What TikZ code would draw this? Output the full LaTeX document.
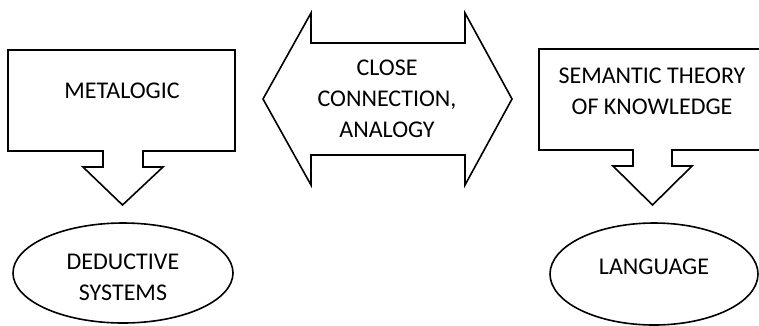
\documentclass[tikz,border=0pt]{standalone}
\usepackage{fontspec}
\setmainfont{Carlito}
\begin{document}
\begin{tikzpicture}[x=1pt,y=-1pt,
  shapeline/.style={draw=black,line width=1.6pt,line join=miter,fill=white},
  lbl/.style={align=center,font=\fontsize{24}{31}\selectfont,inner sep=0pt}]
\useasboundingbox (0,0) rectangle (759,325);
\clip (0,0) rectangle (759,325);
% left callout
\draw[shapeline] (8,50) -- (235,50) -- (235,151) -- (143,151) -- (143,167) -- (163,167)
  -- (122.5,205) -- (83,167) -- (103,167) -- (103,151) -- (8,151) -- cycle;
% right callout
\draw[shapeline] (539,49) -- (764,49) -- (764,150) -- (672,150) -- (672,166) -- (692,166)
  -- (652.5,205) -- (613,166) -- (633,166) -- (633,150) -- (539,150) -- cycle;
% double arrow
\draw[shapeline] (263,99) -- (311,13) -- (311,43) -- (465,43) -- (465,13) -- (512,99)
  -- (465,185) -- (465,155) -- (311,155) -- (311,185) -- cycle;
% ellipses
\draw[shapeline] (123,273) ellipse [x radius=110, y radius=50];
\draw[shapeline] (654,274) ellipse [x radius=104, y radius=51];
% labels
\node[lbl] (meta) at (122,91) {METALOGIC};
\node[lbl] (close) at (387,99) {CLOSE\\CONNECTION,\\ANALOGY};
\node[lbl] (sem) at (652,91) {SEMANTIC THEORY\\OF KNOWLEDGE};
\node[lbl] (ded) at (123,277) {DEDUCTIVE\\SYSTEMS};
\node[lbl] (lang) at (654,267) {LANGUAGE};
\end{tikzpicture}
\end{document}
